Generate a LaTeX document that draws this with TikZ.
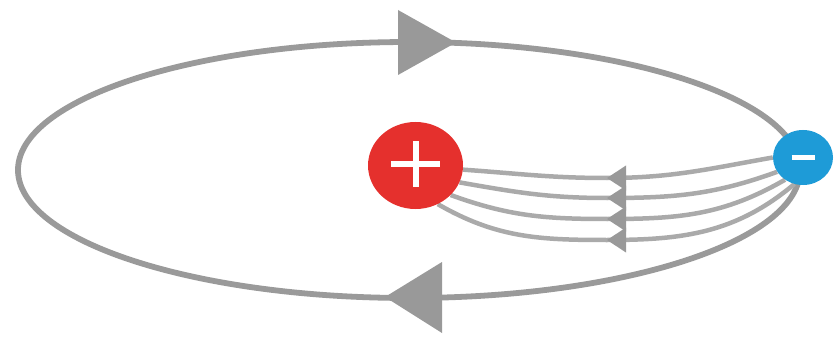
\documentclass[tikz,border=0pt]{standalone}
\usetikzlibrary{shapes.geometric}
\pgfdeclarelayer{bg}
\pgfsetlayers{bg,main}
\definecolor{orbitgray}{HTML}{9A9A9A}
\definecolor{fieldgray}{HTML}{AAAAAA}
\definecolor{arrowgray}{HTML}{999999}
\definecolor{plusred}{HTML}{E5302D}
\definecolor{minusblue}{HTML}{1E9BD7}
\begin{document}
\begin{tikzpicture}[x=1pt,y=1pt,
  charge/.style={ellipse, inner sep=0pt, draw=none},
  orbit/.style={draw=orbitgray, line width=5.8pt},
  fieldline/.style={draw=fieldgray, line width=4.5pt},
  headfill/.style={fill=arrowgray},
  signbar/.style={draw=white, line width=6pt}]
\useasboundingbox (0,0) rectangle (836,338);
\node[charge, fill=plusred, minimum width=95pt, minimum height=87pt] (plus) at (415.5,172.5) {};
\node[charge, fill=minusblue, minimum width=60pt, minimum height=55pt] (minus) at (803,180.5) {};
\coordinate (t1) at (607,160);
\coordinate (t2) at (607,140);
\coordinate (t3) at (607,119);
\coordinate (t4) at (607,98);
\begin{pgfonlayer}{bg}
\draw[orbit] (409,168) ellipse [x radius=391, y radius=128];
\draw[fieldline] (plus.-5) to[out=-4,in=180] (t1) to[out=0,in=190] (minus.180);
\draw[fieldline] (plus.-21) to[out=-10,in=180] (t2) to[out=0,in=200] (minus.209);
\draw[fieldline] (plus.-40) to[out=-20,in=180] (t3) to[out=0,in=210] (minus.231);
\draw[fieldline] (plus.-60) to[out=-30,in=180] (t4) to[out=0,in=220] (minus.252);
\end{pgfonlayer}
\foreach \t in {t1,t2,t3,t4}
  \fill[headfill] (\t) -- ++(19,12.5) -- ++(0,-25) -- cycle;
\fill[headfill] (456,295.5) -- (398,328) -- (398,263) -- cycle;
\fill[headfill] (385,41) -- (442,76) -- (442,5) -- cycle;
\draw[signbar] ([shift={(-24.5,1.5)}]plus.center) -- ([shift={(24.5,1.5)}]plus.center);
\draw[signbar] ([shift={(0.5,24)}]plus.center) -- ([shift={(0.5,-21)}]plus.center);
\draw[signbar, line width=5pt] ([shift={(-11.5,-0.5)}]minus.center) -- ([shift={(11.5,-0.5)}]minus.center);
\end{tikzpicture}
\end{document}
